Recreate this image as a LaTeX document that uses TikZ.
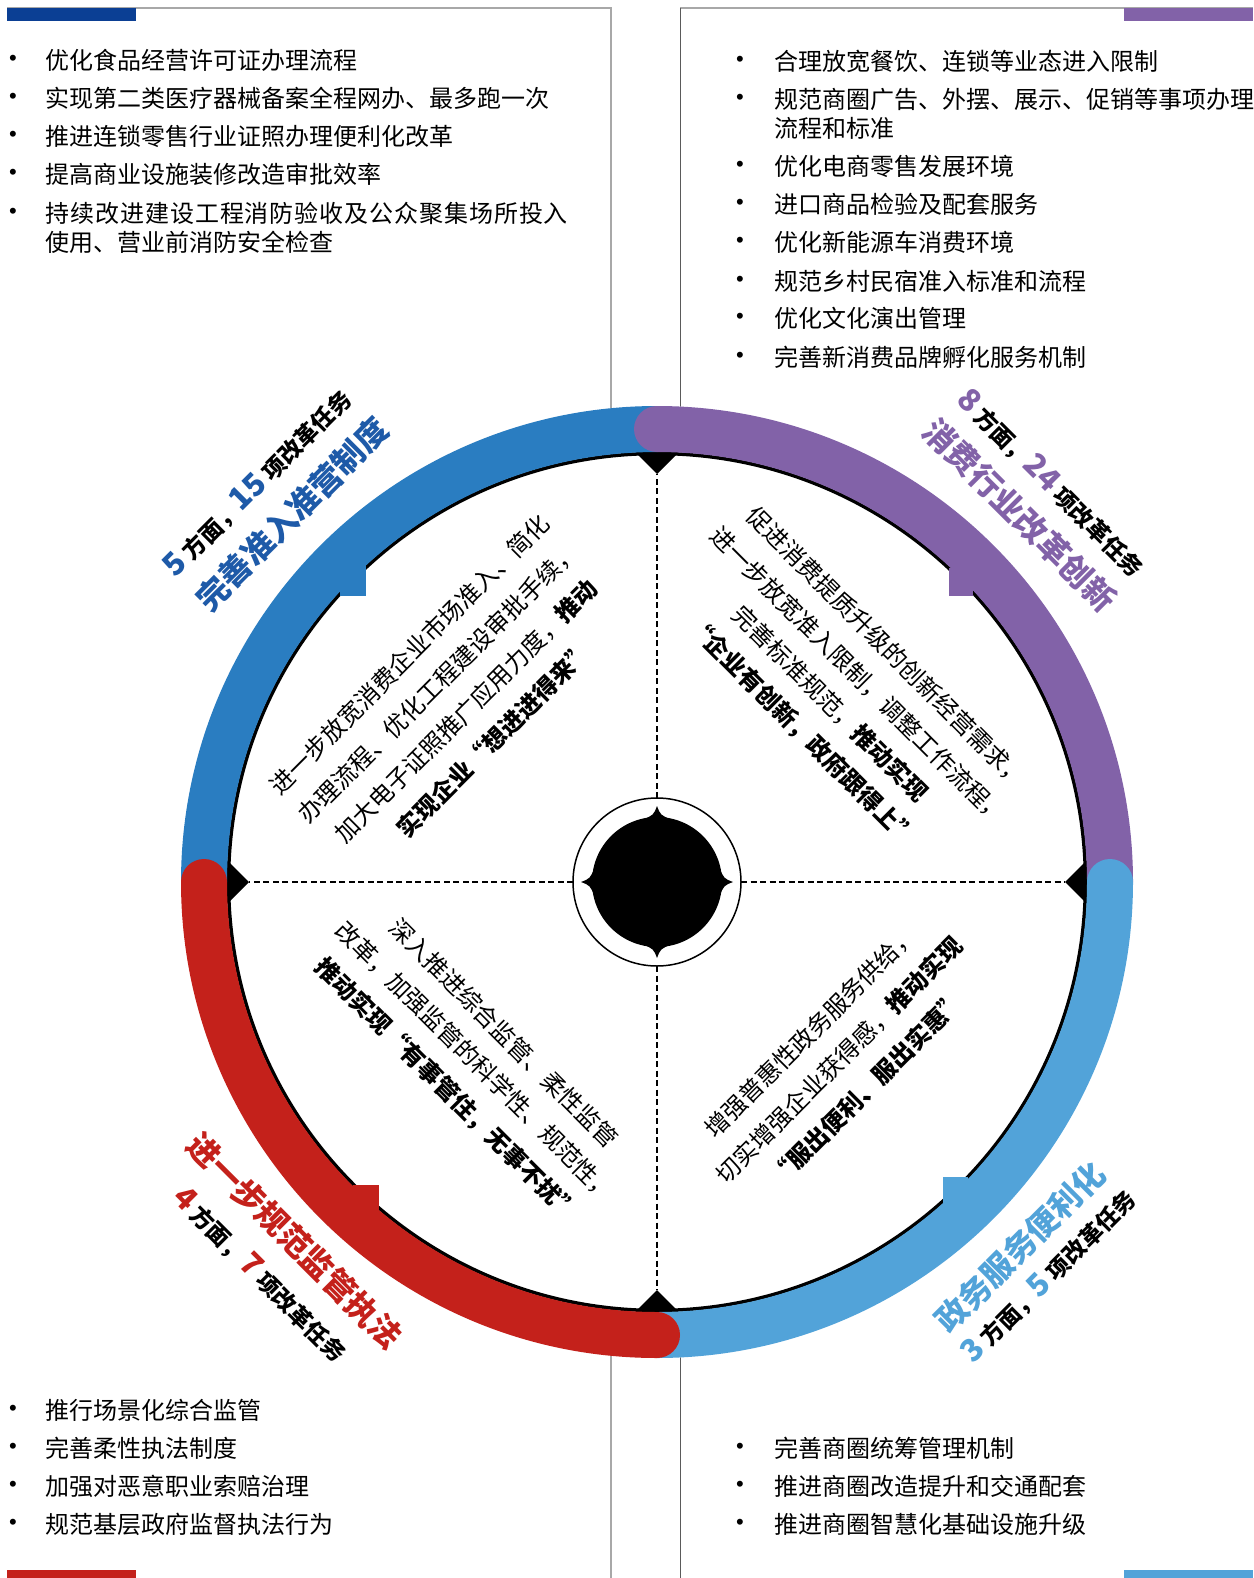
\documentclass[tikz,border=0pt]{standalone}
\usepackage{fontspec}
\setmainfont{Noto Sans CJK SC}
\newfontfamily\bulfont{Liberation Sans}
\newfontfamily\widefont[LetterSpace=3.8]{Noto Sans CJK SC}
\definecolor{cblue}{HTML}{2A7DC1}
\definecolor{ctblue}{HTML}{1E5AA8}
\definecolor{cnavy}{HTML}{0B3F94}
\definecolor{cpurple}{HTML}{8262A8}
\definecolor{clblue}{HTML}{52A3D9}
\definecolor{cred}{HTML}{C4211B}
\definecolor{cgrey}{HTML}{A8A8A8}
\definecolor{cdgrey}{HTML}{5A5A5A}
\newcommand\bignum[2]{{\fontsize{31}{31}\selectfont\color{#1}#2}}
\begin{document}
\begin{tikzpicture}[x=1pt,y=-1pt,
  bul/.style={font=\bulfont\fontsize{22}{22}\selectfont,inner sep=0},
  item/.style={font=\fontsize{24}{24}\selectfont,inner sep=0,anchor=west},
  quad/.style={font=\fontsize{24}{40}\selectfont,align=center,inner sep=0},
  ttl/.style={font=\bfseries\fontsize{32}{32}\selectfont,inner sep=0},
  subt/.style={font=\bfseries\fontsize{23}{23}\selectfont,inner sep=0},
  dashline/.style={line width=1.4pt,dash pattern=on 6pt off 3.5pt}]
\useasboundingbox (0,0) rectangle (1253,1578);
\fill[white] (0,0) rectangle (1253,1578);

% frame lines and bars
\draw[cgrey,line width=1.2pt] (7,8) -- (611,8) -- (611,1578);
\draw[cgrey,line width=1.2pt] (680,8) -- (1253,8);
\draw[cdgrey,line width=1pt] (680,8) -- (680,1578);
\fill[cnavy] (7,8) rectangle (136,21);
\fill[cpurple] (1124,8) rectangle (1253,21);
\fill[cred] (7,1570) rectangle (136,1578);
\fill[clblue] (1124,1570) rectangle (1253,1578);

% ring
\coordinate (C) at (657,882);
\begin{scope}[shift={(C)}]
  \fill[white] (0,0) circle[radius=476];
  \draw[line width=3.5pt] (0,0) circle[radius=428.5];
  \foreach \a in {0,90,180,270}
    \fill[rotate=\a] (408,0) -- (430,22) -- (452,0) -- (430,-22) -- cycle;
  \draw[cblue,line width=46pt] (180:453) arc[start angle=180,end angle=270,radius=453];
  \draw[cpurple,line width=46pt] (270:453) arc[start angle=270,end angle=360,radius=453];
  \fill[cpurple] (270:453) circle[radius=23];
  \draw[clblue,line width=46pt] (0:453) arc[start angle=0,end angle=90,radius=453];
  \fill[clblue] (0:453) circle[radius=23];
  \draw[cred,line width=46pt] (90:453) arc[start angle=90,end angle=180,radius=453];
  \fill[cred] (90:453) circle[radius=23];
  \fill[cred] (180:453) circle[radius=23];
  % centre
  \draw[line width=1.5pt] (0,0) circle[radius=84];
  \fill (0,0) circle[radius=65];
  \foreach \a in {0,90,180,270}
    \fill (\a-13:64) .. controls (\a-3:67) .. (\a:76) .. controls (\a+3:67) .. (\a+13:64) -- cycle;
  \foreach \a in {0,90,180,270}
    \draw[dashline] (\a:84) -- (\a:408);
\end{scope}
% notches
\fill[cblue] (340,566) rectangle (366,596);
\fill[cpurple] (949,568) rectangle (973,596);
\fill[cred] (353,1185) rectangle (379,1212);
\fill[clblue] (943,1177) rectangle (968,1203);

% ring labels
\node[subt,rotate=45] (tlsub) at (258,483) {\bignum{ctblue}{5} 方面，\bignum{ctblue}{15} 项改革任务};
\node[ttl,rotate=45,text=ctblue] (tltitle) at (292,514) {完善准入准营制度};
\node[subt,rotate=-45] (trsub) at (1051,483) {\bignum{cpurple}{8} 方面，\bignum{cpurple}{24} 项改革任务};
\node[ttl,rotate=-45,text=cpurple] (trtitle) at (1020,515) {消费行业改革创新};
\node[ttl,rotate=-45,text=cred] (bltitle) at (295,1241) {进一步规范监管执法};
\node[subt,rotate=-45] (blsub) at (260,1275) {\bignum{cred}{4} 方面，\bignum{cred}{7} 项改革任务};
\node[ttl,rotate=45,text=clblue] (brtitle) at (1020,1247) {政务服务便利化};
\node[subt,rotate=45] (brsub) at (1049,1276) {\bignum{clblue}{3} 方面，\bignum{clblue}{5} 项改革任务};

% quadrant texts
\node[quad,rotate=45] (tlq) at (452,697) {进一步放宽消费企业市场准入、简化\\办理流程、优化工程建设审批手续，\\加大电子证照推广应用力度，\textbf{推动}\\\textbf{实现企业“想进进得来”}};
\node[quad,rotate=-45] (trq) at (844,690) {促进消费提质升级的创新经营需求，\\进一步放宽准入限制，调整工作流程，\\完善标准规范，\textbf{推动实现}\\\textbf{“企业有创新，政府跟得上”}};
\node[quad,rotate=-45] (blq) at (475,1062) {深入推进综合监管、柔性监管\\改革，加强监管的科学性、规范性，\\\textbf{推动实现“有事管住，无事不扰”}};
\node[quad,rotate=45] (brq) at (839,1060) {增强普惠性政务服务供给，\\切实增强企业获得感，\textbf{推动实现}\\\textbf{“服出便利、服出实惠”}};

% top-left list
\node[bul] (tlb1) at (13,60) {•};
\node[item] (tli1) at (45.5,60) {优化食品经营许可证办理流程};
\node[bul] (tlb2) at (13,98) {•};
\node[item] (tli2) at (45.5,98) {实现第二类医疗器械备案全程网办、最多跑一次};
\node[bul] (tlb3) at (13,136) {•};
\node[item] (tli3) at (45.5,136) {推进连锁零售行业证照办理便利化改革};
\node[bul] (tlb4) at (13,174) {•};
\node[item] (tli4) at (45.5,174) {提高商业设施装修改造审批效率};
\node[bul] (tlb5) at (13,213) {•};
\node[item,font=\widefont\fontsize{24}{24}\selectfont] (tli5) at (45.5,213) {持续改进建设工程消防验收及公众聚集场所投入};
\node[item] (tli5b) at (45.5,242) {使用、营业前消防安全检查};

% top-right list
\node[bul] (trb1) at (740,61) {•};
\node[item] (tri1) at (774,61) {合理放宽餐饮、连锁等业态进入限制};
\node[bul] (trb2) at (740,99) {•};
\node[item] (tri2) at (774,99) {规范商圈广告、外摆、展示、促销等事项办理};
\node[item] (tri2b) at (774,128) {流程和标准};
\node[bul] (trb3) at (740,166) {•};
\node[item] (tri3) at (774,166) {优化电商零售发展环境};
\node[bul] (trb4) at (740,204) {•};
\node[item] (tri4) at (774,204) {进口商品检验及配套服务};
\node[bul] (trb5) at (740,242) {•};
\node[item] (tri5) at (774,242) {优化新能源车消费环境};
\node[bul] (trb6) at (740,281) {•};
\node[item] (tri6) at (774,281) {规范乡村民宿准入标准和流程};
\node[bul] (trb7) at (740,318) {•};
\node[item] (tri7) at (774,318) {优化文化演出管理};
\node[bul] (trb8) at (740,357) {•};
\node[item] (tri8) at (774,357) {完善新消费品牌孵化服务机制};

% bottom-left list
\node[bul] (blb1) at (13,1410) {•};
\node[item] (bli1) at (45.5,1410) {推行场景化综合监管};
\node[bul] (blb2) at (13,1448) {•};
\node[item] (bli2) at (45.5,1448) {完善柔性执法制度};
\node[bul] (blb3) at (13,1486) {•};
\node[item] (bli3) at (45.5,1486) {加强对恶意职业索赔治理};
\node[bul] (blb4) at (13,1524) {•};
\node[item] (bli4) at (45.5,1524) {规范基层政府监督执法行为};

% bottom-right list
\node[bul] (brb1) at (740,1448) {•};
\node[item] (bri1) at (774,1448) {完善商圈统筹管理机制};
\node[bul] (brb2) at (740,1486) {•};
\node[item] (bri2) at (774,1486) {推进商圈改造提升和交通配套};
\node[bul] (brb3) at (740,1524) {•};
\node[item] (bri3) at (774,1524) {推进商圈智慧化基础设施升级};
\end{tikzpicture}
\end{document}
